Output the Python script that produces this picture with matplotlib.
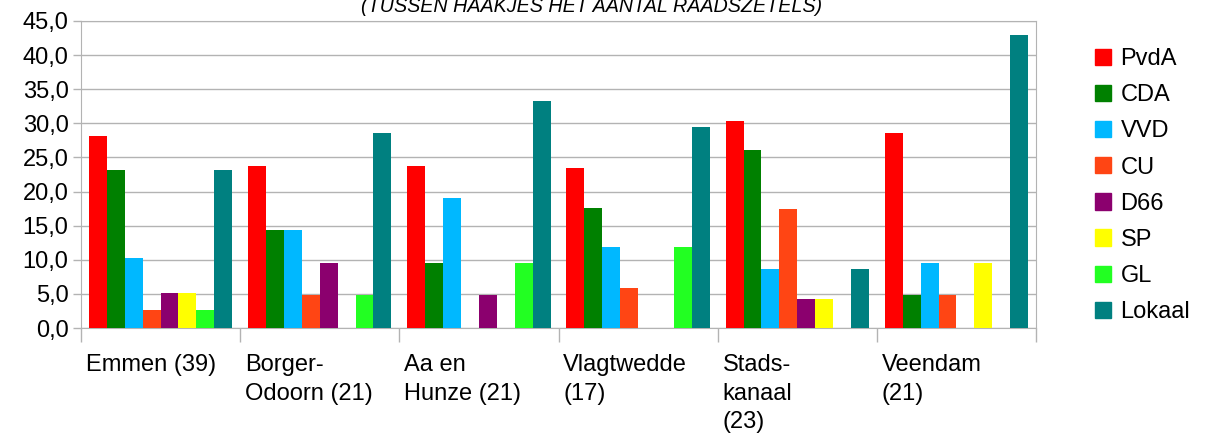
import numpy as np
import matplotlib.pyplot as plt
from matplotlib.patches import Patch

plt.rcParams['font.family'] = ['Liberation Sans', 'DejaVu Sans']

# gemeenten (tussen haakjes het aantal raadszetels)
gemeenten = ['Emmen (39)', 'Borger-\nOdoorn (21)', 'Aa en\nHunze (21)',
             'Vlagtwedde\n(17)', 'Stads-\nkanaal\n(23)', 'Veendam\n(21)']
partijen = ['PvdA', 'CDA', 'VVD', 'CU', 'D66', 'SP', 'GL', 'Lokaal']
kleuren = ['#ff0000', '#008000', '#00b8ff', '#ff4514', '#8b006e',
           '#ffff00', '#22ff22', '#008080']

# percentage zetels per partij, per gemeente
pvda   = [28.2, 23.8, 23.8, 23.5, 30.4, 28.6]
cda    = [23.1, 14.3,  9.5, 17.6, 26.1,  4.8]
vvd    = [10.3, 14.3, 19.0, 11.8,  8.7,  9.5]
cu     = [ 2.6,  4.8,  0.0,  5.9, 17.4,  4.8]
d66    = [ 5.1,  9.5,  4.8,  0.0,  4.3,  0.0]
sp     = [ 5.1,  0.0,  0.0,  0.0,  4.3,  9.5]
gl     = [ 2.6,  4.8,  9.5, 11.8,  0.0,  0.0]
lokaal = [23.1, 28.6, 33.3, 29.4,  8.7, 42.9]
waarden = [pvda, cda, vvd, cu, d66, sp, gl, lokaal]

fig = plt.figure(figsize=(12.05, 4.42), dpi=100)
ax = fig.add_axes([81 / 1205, 1 - 328 / 442, 955 / 1205, 307 / 442])

n = len(partijen)
bw = 0.9 / n
x = np.arange(len(gemeenten))
for k, (vals, kl) in enumerate(zip(waarden, kleuren)):
    ax.bar(x + 0.05 + bw * k, vals, width=bw, align='edge', color=kl,
           label=partijen[k], zorder=3)

ax.set_xlim(0, len(gemeenten))
ax.set_ylim(0, 45)
ax.set_yticks(np.arange(0, 46, 5))
ax.set_yticklabels([f'{v:.1f}'.replace('.', ',') for v in np.arange(0, 46, 5)],
                   fontsize=17)
ax.set_xticks(np.arange(0, len(gemeenten) + 1))
ax.set_xticklabels([])
ax.tick_params(axis='x', length=10, color='#b3b3b3', width=1)
ax.tick_params(axis='y', length=6, color='#b3b3b3', width=1, pad=3)
ax.grid(axis='y', color='#b3b3b3', linewidth=1, zorder=0)
for s in ax.spines.values():
    s.set_color('#b3b3b3')

for i, g in enumerate(gemeenten):
    ax.text(i + 0.03, -0.085, g, transform=ax.get_xaxis_transform(),
            ha='left', va='top', fontsize=17, linespacing=1.38)

# titel valt deels buiten het beeld, zoals in het origineel
fig.text(0.491, 1 - 12 / 442, '(TUSSEN HAAKJES HET AANTAL RAADSZETELS)',
         ha='center', va='baseline', fontsize=14.2, style='italic')

handles = [Patch(color=c) for c in kleuren]
fig.legend(handles, partijen, loc='upper left',
           bbox_to_anchor=(1095 / 1205, 1 - 48 / 442), frameon=False,
           fontsize=17, handlelength=0.68, handleheight=0.68,
           handletextpad=0.4, labelspacing=0.6, borderpad=0, borderaxespad=0)

fig.savefig('out.png', dpi=100)
